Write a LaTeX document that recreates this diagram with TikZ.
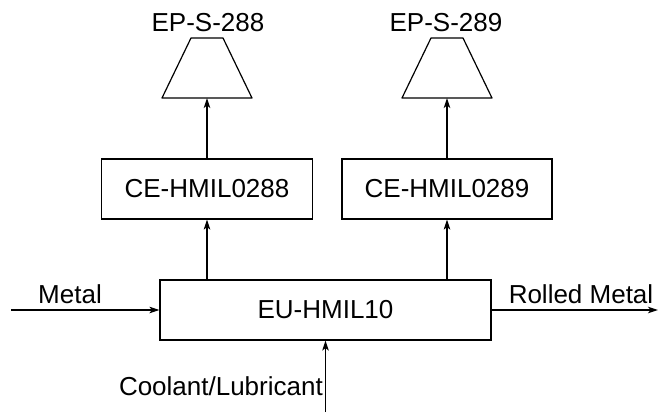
\documentclass[tikz,border=0pt]{standalone}
\usepackage{fontspec}
\setmainfont{Liberation Sans}
\usetikzlibrary{arrows.meta}
\begin{document}
\begin{tikzpicture}[x=1pt,y=-1pt,
  every node/.style={font=\fontsize{26}{30}\selectfont},
  unitbox/.style={draw,line width=1.2pt,minimum height=60pt,inner sep=0pt},
  stackline/.style={line width=1.2pt,line join=round},
  flow/.style={line width=1.2pt,-{Stealth[length=10pt,width=6.5pt,inset=2.5pt]}},
  lbl/.style={anchor=base,inner sep=0pt}]
\useasboundingbox (0,0) rectangle (658,412);
% stacks (bottom centre coordinates)
\coordinate (T1) at (207,98);
\coordinate (T2) at (447,98);
\draw[stackline] (T1) ++(-45,0) -- ++(90,0) -- ++(-29,-60) -- ++(-32,0) -- cycle;
\draw[stackline] (T2) ++(-45,0) -- ++(90,0) -- ++(-29,-60) -- ++(-32,0) -- cycle;
\node[lbl] (L1) at (208,32) {EP-S-288};
\node[lbl] (L2) at (446,32) {EP-S-289};
% control equipment
\node[unitbox,minimum width=211pt] (CE1) at (207,189) {CE-HMIL0288};
\node[unitbox,minimum width=210pt] (CE2) at (447,189) {CE-HMIL0289};
% emission unit
\node[unitbox,minimum width=331pt] (EU) at (325.5,310) {EU-HMIL10};
% free ends
\coordinate (metalin) at (11,310);
\coordinate (rolledout) at (658,310);
\coordinate (coolin) at (325.5,412);
% connectors
\draw[flow] (EU.north -| CE1.south) -- (CE1.south);
\draw[flow] (EU.north -| CE2.south) -- (CE2.south);
\draw[flow] (CE1.north) -- (T1);
\draw[flow] (CE2.north) -- (T2);
\draw[flow] (metalin) -- (EU.west);
\draw[flow] (EU.east) -- (rolledout);
\draw[flow] (coolin) -- (EU.south);
% labels
\node[lbl] (Lmetal) at (70,303) {Metal};
\node[lbl] (Lrolled) at (581,303) {Rolled Metal};
\node[anchor=base east,inner sep=0pt] (Lcool) at (323,395) {Coolant/Lubricant};
\end{tikzpicture}
\end{document}
